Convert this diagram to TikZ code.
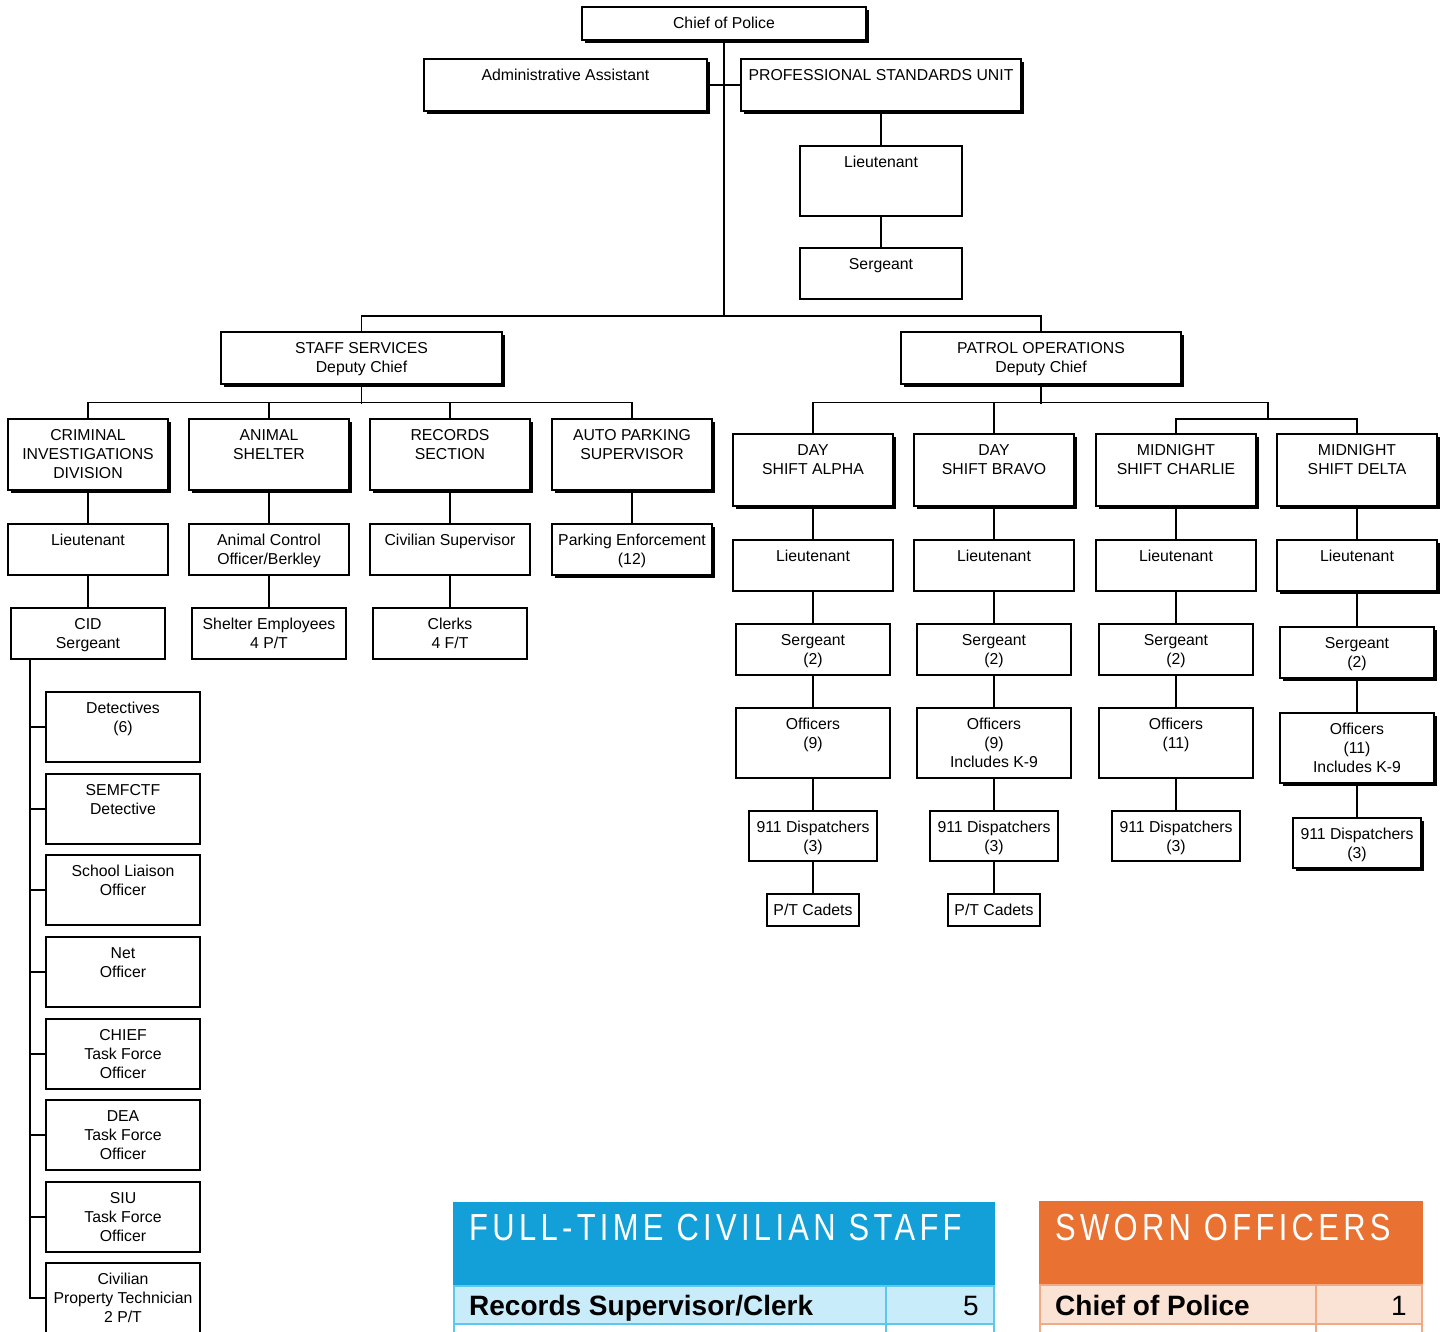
\documentclass[tikz,border=0pt]{standalone}
\usepackage{fontspec}
\setmainfont{Liberation Sans}
\newfontfamily\hdfont[FakeStretch=0.82,LetterSpace=11.5]{Liberation Sans}
\usetikzlibrary{shadows}
\definecolor{cblue}{HTML}{13A0D8}
\definecolor{clight}{HTML}{C8ECFA}
\definecolor{cborder}{HTML}{5CC8F0}
\definecolor{corange}{HTML}{E97132}
\definecolor{cpeach}{HTML}{FAE2D5}
\definecolor{cpborder}{HTML}{F2AA84}
\tikzset{
  orgbox/.style={draw, line width=1.3pt, inner sep=0pt, fill=white, font=\fontsize{15.8}{19}\selectfont},
  sorgbox/.style={orgbox, drop shadow={shadow xshift=3pt, shadow yshift=-3pt, fill=black, opacity=1}},
  conn/.style={line width=1.2pt},
  tabtitle/.style={anchor=base west, inner sep=0pt, text=white, font=\hdfont\fontsize{37.7}{40}\selectfont},
  tabrow/.style={anchor=base west, inner sep=0pt, font=\bfseries\fontsize{28}{30}\selectfont},
  tabnum/.style={anchor=base east, inner sep=0pt, font=\fontsize{28}{30}\selectfont}
}
% style, name, x1, y1, x2, y2, text
\newcommand\obox[7]{\node[#1] (#2) at ({(#3+#5)/2},{(#4+#6)/2}) {\parbox[c][\dimexpr#6pt-#4pt\relax][t]{\dimexpr#5pt-#3pt\relax}{\centering\rule{0pt}{21pt}#7}};}
\begin{document}
\begin{tikzpicture}[x=1pt,y=-1pt]
\useasboundingbox (0,0) rectangle (1445,1331);
% top
\obox{sorgbox}{chief}{582}{7}{866}{40}{Chief of Police}
\obox{sorgbox}{admin}{424}{59}{707}{111}{Administrative Assistant}
\obox{sorgbox}{psu}{741}{59}{1021}{111}{PROFESSIONAL STANDARDS UNIT}
\obox{orgbox}{psuLt}{800}{146}{962}{216}{Lieutenant}
\obox{orgbox}{psuSgt}{800}{248}{962}{299}{Sergeant}
\obox{sorgbox}{staff}{221}{332}{502}{384}{STAFF SERVICES\\Deputy Chief}
\obox{sorgbox}{patrol}{901}{332}{1181}{384}{PATROL OPERATIONS\\Deputy Chief}
\coordinate (j1) at (724,316);
\coordinate (j3) at (1268,419);
% staff services
\obox{sorgbox}{cid}{8}{419}{168}{490}{CRIMINAL\\INVESTIGATIONS\\DIVISION}
\obox{sorgbox}{shelter}{189}{419}{349}{490}{ANIMAL\\SHELTER}
\obox{sorgbox}{records}{370}{419}{530}{490}{RECORDS\\SECTION}
\obox{sorgbox}{parking}{552}{419}{712}{490}{AUTO PARKING\\SUPERVISOR}
\obox{orgbox}{cidLt}{8}{524}{168}{575}{Lieutenant}
\obox{orgbox}{aco}{189}{524}{349}{575}{Animal Control\\Officer/Berkley}
\obox{orgbox}{civsup}{370}{524}{530}{575}{Civilian Supervisor}
\obox{sorgbox}{penf}{552}{524}{712}{575}{Parking Enforcement\\(12)}
\obox{orgbox}{cidSgt}{11}{608}{165}{659}{CID\\Sergeant}
\obox{orgbox}{shelEmp}{192}{608}{346}{659}{Shelter Employees\\4 P/T}
\obox{orgbox}{clerks}{373}{608}{527}{659}{Clerks\\4 F/T}
% CID items
\obox{orgbox}{det}{46}{692}{200}{762}{Detectives\\(6)}
\obox{orgbox}{semf}{46}{774}{200}{844}{SEMFCTF\\Detective}
\obox{orgbox}{slo}{46}{855}{200}{925}{School Liaison\\Officer}
\obox{orgbox}{net}{46}{937}{200}{1007}{Net\\Officer}
\obox{orgbox}{chieftf}{46}{1019}{200}{1089}{CHIEF\\Task Force\\Officer}
\obox{orgbox}{dea}{46}{1100}{200}{1170}{DEA\\Task Force\\Officer}
\obox{orgbox}{siu}{46}{1182}{200}{1252}{SIU\\Task Force\\Officer}
\obox{orgbox}{prop}{46}{1263}{200}{1333}{Civilian\\Property Technician\\2 P/T}
\coordinate (cb) at (30,1298);
% patrol
\obox{sorgbox}{alpha}{733}{434}{893}{506}{DAY\\SHIFT ALPHA}
\obox{sorgbox}{bravo}{914}{434}{1074}{506}{DAY\\SHIFT BRAVO}
\obox{sorgbox}{charlie}{1096}{434}{1256}{506}{MIDNIGHT\\SHIFT CHARLIE}
\obox{sorgbox}{delta}{1277}{434}{1437}{506}{MIDNIGHT\\SHIFT DELTA}
\obox{orgbox}{alphaLt}{733}{540}{893}{591}{Lieutenant}
\obox{orgbox}{bravoLt}{914}{540}{1074}{591}{Lieutenant}
\obox{orgbox}{charlieLt}{1096}{540}{1256}{591}{Lieutenant}
\obox{sorgbox}{deltaLt}{1277}{540}{1437}{591}{Lieutenant}
\obox{orgbox}{alphaSgt}{736}{624}{890}{675}{Sergeant\\(2)}
\obox{orgbox}{bravoSgt}{917}{624}{1071}{675}{Sergeant\\(2)}
\obox{orgbox}{charlieSgt}{1099}{624}{1253}{675}{Sergeant\\(2)}
\obox{sorgbox}{deltaSgt}{1280}{627}{1434}{678}{Sergeant\\(2)}
\obox{orgbox}{alphaOff}{736}{708}{890}{778}{Officers\\(9)}
\obox{orgbox}{bravoOff}{917}{708}{1071}{778}{Officers\\(9)\\Includes K-9}
\obox{orgbox}{charlieOff}{1099}{708}{1253}{778}{Officers\\(11)}
\obox{sorgbox}{deltaOff}{1280}{713}{1434}{783}{Officers\\(11)\\Includes K-9}
\obox{orgbox}{alphaDisp}{749}{811}{877}{861}{911 Dispatchers\\(3)}
\obox{orgbox}{bravoDisp}{930}{811}{1058}{861}{911 Dispatchers\\(3)}
\obox{orgbox}{charlieDisp}{1112}{811}{1240}{861}{911 Dispatchers\\(3)}
\obox{sorgbox}{deltaDisp}{1293}{818}{1421}{868}{911 Dispatchers\\(3)}
\obox{orgbox}{alphaCad}{767}{894}{859}{926}{P/T Cadets}
\obox{orgbox}{bravoCad}{948}{894}{1040}{926}{P/T Cadets}
% connectors
\draw[conn] (chief.south) -- (j1);
\draw[conn] (admin.east) -- (psu.west);
\draw[conn] (psu.south) -- (psuLt.north);
\draw[conn] (psuLt.south) -- (psuSgt.north);
\draw[conn] (staff.north) |- (j1) -| (patrol.north);
\draw[conn] (staff.south) -- ++(0,19);
\draw[conn] (cid.north) -- ++(0,-16) -| (parking.north);
\draw[conn] (shelter.north) -- ++(0,-16);
\draw[conn] (records.north) -- ++(0,-16);
\draw[conn] (cid.south) -- (cidLt.north);
\draw[conn] (cidLt.south) -- (cidSgt.north);
\draw[conn] (shelter.south) -- (aco.north);
\draw[conn] (aco.south) -- (shelEmp.north);
\draw[conn] (records.south) -- (civsup.north);
\draw[conn] (civsup.south) -- (clerks.north);
\draw[conn] (parking.south) -- (penf.north);
\draw[conn] (cidSgt.south -| cb) -- (cb) -- (prop.west);
\foreach \n in {det,semf,slo,net,chieftf,dea,siu}
  \draw[conn] (\n.west) -- (\n.west -| cb);
\draw[conn] (patrol.south) -- ++(0,19);
\draw[conn] (alpha.north) -- ++(0,-31) -| (j3);
\draw[conn] (bravo.north) -- ++(0,-31);
\draw[conn] (charlie.north) |- (j3) -| (delta.north);
\foreach \c in {alpha,bravo,charlie,delta} {
  \draw[conn] (\c.south) -- (\c Lt.north);
  \draw[conn] (\c Lt.south) -- (\c Sgt.north);
  \draw[conn] (\c Sgt.south) -- (\c Off.north);
  \draw[conn] (\c Off.south) -- (\c Disp.north);
}
\draw[conn] (alphaDisp.south) -- (alphaCad.north);
\draw[conn] (bravoDisp.south) -- (bravoCad.north);
% civilian table
\fill[cblue] (453,1202) rectangle (995,1286);
\node[tabtitle] (civtitle) at (469,1240) {FULL-TIME CIVILIAN STAFF};
\filldraw[fill=clight, draw=cborder, line width=1.5pt] (454,1286) rectangle (994,1324);
\draw[cborder, line width=1.5pt] (454,1324) rectangle (994,1365);
\draw[cborder, line width=1.5pt] (886,1286) -- (886,1365);
\node[tabrow] (civrow) at (469,1315) {Records Supervisor/Clerk};
\node[tabnum] (civnum) at (979,1315) {5};
% sworn table
\fill[corange] (1039,1201) rectangle (1423,1285);
\node[tabtitle] (swtitle) at (1055,1240) {SWORN OFFICERS};
\filldraw[fill=cpeach, draw=cpborder, line width=1.5pt] (1040,1285) rectangle (1422,1324);
\draw[cpborder, line width=1.5pt] (1040,1324) rectangle (1422,1365);
\draw[cpborder, line width=1.5pt] (1316,1285) -- (1316,1365);
\node[tabrow] (swrow) at (1055,1315) {Chief of Police};
\node[tabnum] (swnum) at (1407,1315) {1};
\end{tikzpicture}
\end{document}
